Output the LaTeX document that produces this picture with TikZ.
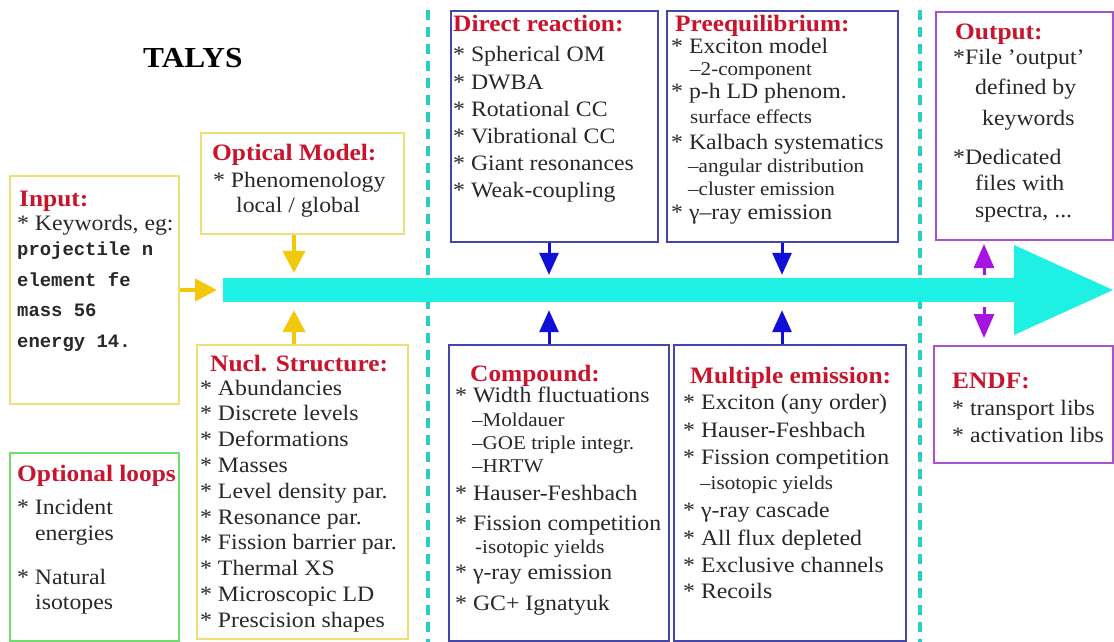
\documentclass[tikz,border=0pt]{standalone}
\usepackage{fontspec}
\setmainfont{Liberation Serif}[FakeStretch=1.08]
\newfontfamily\kwfont{Liberation Mono}
\usetikzlibrary{arrows.meta}
\definecolor{tred}{RGB}{200,20,45}
\definecolor{ybox}{RGB}{240,222,120}
\definecolor{yarr}{RGB}{242,200,10}
\definecolor{gbox}{RGB}{110,220,110}
\definecolor{bbox}{RGB}{70,70,170}
\definecolor{barr}{RGB}{15,15,215}
\definecolor{pbox}{RGB}{170,80,210}
\definecolor{parr}{RGB}{165,20,225}
\definecolor{flowc}{RGB}{30,240,228}
\definecolor{dashc}{RGB}{40,205,195}
\definecolor{txt}{RGB}{40,40,40}
\newcommand\txtline[5]{\node[#1] (#2) at (#3,#4) {#5};}
\begin{document}
\begin{tikzpicture}[x=1pt,y=-1pt,
 frame/.style={draw, line width=2pt, inner sep=0pt, anchor=north west},
 ttl/.style={anchor=base west, inner sep=0pt, text=tred, font=\bfseries\fontsize{23.5}{28}\selectfont},
 body/.style={anchor=base west, inner sep=0pt, text=txt, font=\fontsize{22}{26}\selectfont},
 sub/.style={anchor=base west, inner sep=0pt, text=txt, font=\fontsize{19.5}{23}\selectfont},
 kw/.style={anchor=base west, inner sep=0pt, text=txt, font=\kwfont\bfseries\fontsize{18.9}{22}\selectfont},
 yarrow/.style={draw=yarr, line width=4pt, -{Triangle[width=22pt,length=22pt]}},
 barrow/.style={draw=barr, line width=3pt, -{Triangle[width=19pt,length=22pt]}},
 parrow/.style={draw=parr, line width=3pt, -{Triangle[width=20pt,length=24pt]}},
 sep/.style={draw=dashc, line width=4pt, dash pattern=on 10pt off 7pt}
]
\useasboundingbox (0,0) rectangle (1114,642);
\fill[white] (0,0) rectangle (1114,642);

% separators
\draw[sep] (428,10) -- (428,642);
\draw[sep] (920,10) -- (920,642);

% main flow arrow
\node[fill=flowc, inner sep=0pt, minimum width=795, minimum height=24, anchor=west] (flow) at (223,290) {};
\fill[flowc] (1014,245) -- (1113,290) -- (1014,335) -- cycle;

% title
\node[anchor=base west, inner sep=0pt, text=black, font=\bfseries\fontsize{29}{34}\selectfont] (talys) at (143,67) {TALYS};

% boxes
\node[frame, draw=ybox, minimum width=169, minimum height=228] (input) at (9,175) {};
\node[frame, draw=gbox, minimum width=169, minimum height=188] (loops) at (9,452) {};
\node[frame, draw=ybox, minimum width=203, minimum height=101] (opt) at (200,132) {};
\node[frame, draw=ybox, minimum width=211, minimum height=294] (nucl) at (196,344) {};
\node[frame, draw=bbox, minimum width=207, minimum height=231] (dr) at (450,10) {};
\node[frame, draw=bbox, minimum width=231, minimum height=231] (pre) at (666,10) {};
\node[frame, draw=bbox, minimum width=220, minimum height=296] (comp) at (448,344) {};
\node[frame, draw=bbox, minimum width=232, minimum height=296] (mult) at (673,344) {};
\node[frame, draw=pbox, minimum width=177, minimum height=228] (out) at (935,11) {};
\node[frame, draw=pbox, minimum width=179, minimum height=117] (endf) at (933,345) {};

% Input
\txtline{ttl}{in0}{19}{206}{Input:}
\txtline{body}{in1}{17}{230}{* Keywords, eg:}
\txtline{kw}{in2}{17}{255}{projectile n}
\txtline{kw}{in3}{17}{286}{element fe}
\txtline{kw}{in4}{17}{316}{mass 56}
\txtline{kw}{in5}{17}{347}{energy 14.}

% Optional loops
\txtline{ttl}{lp0}{17}{481}{Optional loops}
\txtline{body}{lp1}{17}{514}{* Incident}
\txtline{body}{lp2}{35}{540}{energies}
\txtline{body}{lp3}{17}{584}{* Natural}
\txtline{body}{lp4}{35}{609}{isotopes}

% Optical model
\txtline{ttl}{op0}{212}{160}{Optical Model:}
\txtline{body}{op1}{213}{187}{* Phenomenology}
\txtline{body}{op2}{236}{212}{local / global}

% Nuclear structure
\txtline{ttl}{ns0}{210}{371}{Nucl. Structure:}
\foreach \t [count=\i from 0] in {Abundancies, Discrete levels, Deformations, Masses, Level density par., Resonance par., Fission barrier par., Thermal XS, Microscopic LD, Prescision shapes}
  \node[body] (ns\i) at (200,395+25.8*\i) {* \t};

% Direct reaction
\txtline{ttl}{dr0}{453}{32}{Direct reaction:}
\foreach \t [count=\i from 0] in {Spherical OM, DWBA, Rotational CC, Vibrational CC, Giant resonances, Weak-coupling}
  \node[body] (drl\i) at (453,62+27*\i) {* \t};

% Preequilibrium
\txtline{ttl}{pr0}{675}{32}{Preequilibrium:}
\txtline{body}{pr1}{671}{54}{* Exciton model}
\txtline{sub}{pr2}{690}{75}{–2-component}
\txtline{body}{pr3}{671}{99}{* p-h LD phenom.}
\txtline{sub}{pr4}{690}{123}{surface effects}
\txtline{body}{pr5}{671}{149}{* Kalbach systematics}
\txtline{sub}{pr6}{688}{172}{–angular distribution}
\txtline{sub}{pr7}{688}{195}{–cluster emission}
\txtline{body}{pr8}{671}{219}{* γ–ray emission}

% Output
\txtline{ttl}{ou0}{955}{40}{Output:}
\txtline{body}{ou1}{953}{65}{*File 'output'}
\txtline{body}{ou2}{975}{95}{defined by}
\txtline{body}{ou3}{982}{125}{keywords}
\txtline{body}{ou4}{953}{164}{*Dedicated}
\txtline{body}{ou5}{975}{190}{files with}
\txtline{body}{ou6}{975}{217}{spectra, ...}

% ENDF
\txtline{ttl}{en0}{952}{388}{ENDF:}
\txtline{body}{en1}{952}{415}{* transport libs}
\txtline{body}{en2}{952}{442}{* activation libs}

% Compound
\txtline{ttl}{co0}{470}{381}{Compound:}
\txtline{body}{co1}{455}{402}{* Width fluctuations}
\txtline{sub}{co2}{472}{426}{–Moldauer}
\txtline{sub}{co3}{472}{449}{–GOE triple integr.}
\txtline{sub}{co4}{472}{472}{–HRTW}
\txtline{body}{co5}{455}{500}{* Hauser-Feshbach}
\txtline{body}{co6}{455}{530}{* Fission competition}
\txtline{sub}{co7}{475}{553}{-isotopic yields}
\txtline{body}{co8}{455}{579}{* γ-ray emission}
\txtline{body}{co9}{455}{610}{* GC+ Ignatyuk}

% Multiple emission
\txtline{ttl}{me0}{690}{383}{Multiple emission:}
\txtline{body}{me1}{683}{409}{* Exciton (any order)}
\txtline{body}{me2}{683}{437}{* Hauser-Feshbach}
\txtline{body}{me3}{683}{464}{* Fission competition}
\txtline{sub}{me4}{700}{489}{–isotopic yields}
\txtline{body}{me5}{683}{517}{* γ-ray cascade}
\txtline{body}{me6}{683}{545}{* All flux depleted}
\txtline{body}{me7}{683}{572}{* Exclusive channels}
\txtline{body}{me8}{683}{598}{* Recoils}

% connectors
\draw[yarrow, shorten >=6pt] (input.east) -- (flow.west);
\draw[yarrow, shorten >=5pt] ([xshift=-8.5pt]opt.south) -- ([xshift=-8.5pt]opt.south |- flow.north);
\draw[yarrow, shorten >=8pt] ([xshift=-8.5pt]nucl.north) -- ([xshift=-8.5pt]nucl.north |- flow.south);
\draw[barrow, shorten >=3pt] ([xshift=-5.5pt]dr.south) -- ([xshift=-5.5pt]dr.south |- flow.north);
\draw[barrow, shorten >=8pt] ([xshift=-10pt]comp.north) -- ([xshift=-10pt]comp.north |- flow.south);
\draw[barrow, shorten >=3pt] ([xshift=-0.5pt]pre.south) -- ([xshift=-0.5pt]pre.south |- flow.north);
\draw[barrow, shorten >=8pt] ([xshift=-8pt]mult.north) -- ([xshift=-8pt]mult.north |- flow.south);
\draw[parrow, shorten <=3pt, shorten >=3pt] ([xshift=-40.5pt]out.south |- flow.north) -- ([xshift=-40.5pt]out.south);
\draw[parrow, shorten <=5pt, shorten >=7pt] ([xshift=-39.5pt]endf.north |- flow.south) -- ([xshift=-39.5pt]endf.north);
\end{tikzpicture}
\end{document}
